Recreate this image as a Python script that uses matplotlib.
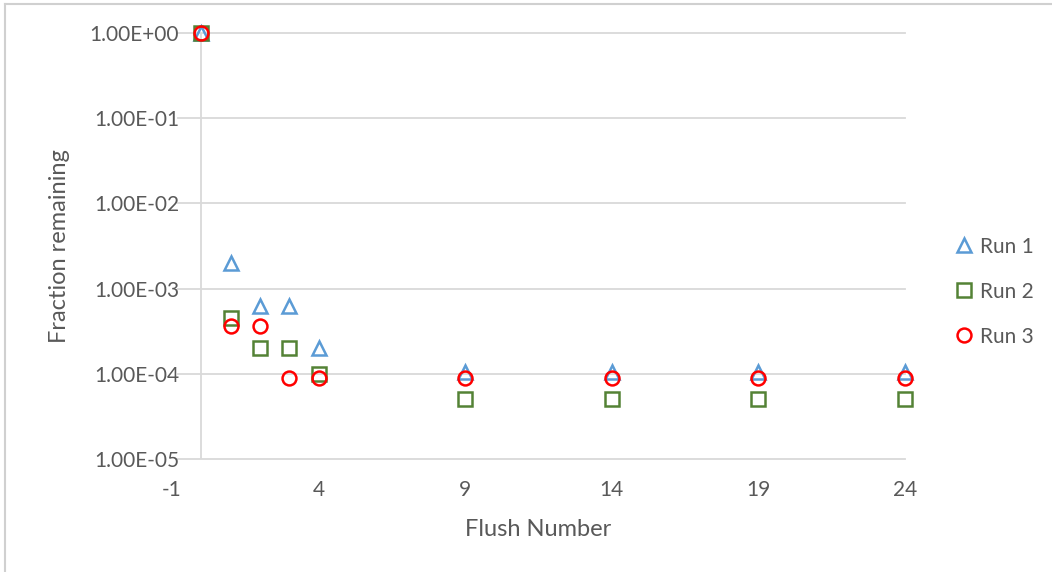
import matplotlib
matplotlib.use("Agg")
import matplotlib.pyplot as plt
from matplotlib.lines import Line2D
from matplotlib.ticker import FixedLocator

# flush numbers and fraction remaining per run
flush = [0, 1, 2, 3, 4, 9, 14, 19, 24]
run1 = [1.0, 2.0e-3, 6.2e-4, 6.2e-4, 2.0e-4, 1.05e-4, 1.05e-4, 1.05e-4, 1.05e-4]
run2 = [1.0, 4.5e-4, 2.0e-4, 2.0e-4, 1.0e-4, 5.0e-5, 5.0e-5, 5.0e-5, 5.0e-5]
run3 = [1.0, 3.6e-4, 3.6e-4, 9.0e-5, 9.0e-5, 9.0e-5, 9.0e-5, 9.0e-5, 9.0e-5]

xticks = [-1, 4, 9, 14, 19, 24]
yticks = [1e-5, 1e-4, 1e-3, 1e-2, 1e-1, 1e0]
ylabels = ["1.00E-05", "1.00E-04", "1.00E-03", "1.00E-02", "1.00E-01", "1.00E+00"]

plt.rcParams['font.family'] = ['Lato', 'DejaVu Sans']
txtc = "#595959"
gridc = "#d9d9d9"

fig = plt.figure(figsize=(10.52, 5.72), dpi=100)
ax = fig.add_axes([0.1635, 0.1976, 0.6968, 0.7447])

ax.plot(flush, run1, ls="none", marker="^", ms=9.5, mfc="none", mec="#5b9bd5", mew=1.8, label="Run 1", clip_on=False)
ax.plot(flush, run2, ls="none", marker="s", ms=9.5, mfc="none", mec="#548235", mew=1.8, label="Run 2", clip_on=False)
ax.plot(flush, run3, ls="none", marker="o", ms=10, mfc="none", mec="#ff0000", mew=1.8, label="Run 3", clip_on=False)

ax.set_yscale("log")
ax.set_xlim(-1, 24)
ax.set_ylim(1e-5, 1e0)
ax.xaxis.set_major_locator(FixedLocator(xticks))
ax.yaxis.set_major_locator(FixedLocator(yticks))
ax.yaxis.set_minor_locator(FixedLocator([]))
ax.set_yticklabels(ylabels)
ax.set_xticklabels([str(t) for t in xticks])

# gridlines start a little right of the axes edge, like the original
for y in yticks:
    ax.axhline(y, xmin=0.008, color=gridc, lw=1.3, zorder=0, clip_on=False)
ax.axvline(0, color=gridc, lw=1.3, zorder=0)

for s in ["top", "right", "left", "bottom"]:
    ax.spines[s].set_visible(False)
ax.tick_params(axis="both", length=0, colors=txtc, labelsize=15)
ax.tick_params(axis="y", pad=-5)
ax.tick_params(axis="x", pad=15)

ax.set_xlabel("Flush Number", fontsize=17, color=txtc, labelpad=14)
ax.set_ylabel("Fraction remaining", fontsize=17, color=txtc, labelpad=14)

leg = fig.legend(loc="upper left", bbox_to_anchor=(0.8886, 0.619), frameon=False,
                 fontsize=15, labelspacing=1.2, handletextpad=0.25, handlelength=1.0)
for t in leg.get_texts():
    t.set_color(txtc)

# chart border (top and left edges visible)
fig.add_artist(Line2D([0.005, 1.0], [0.993, 0.993], color="#d0d0d0", lw=1.5))
fig.add_artist(Line2D([0.005, 0.005], [0.0, 0.993], color="#d0d0d0", lw=1.5))

fig.savefig("out.png", dpi=100)
